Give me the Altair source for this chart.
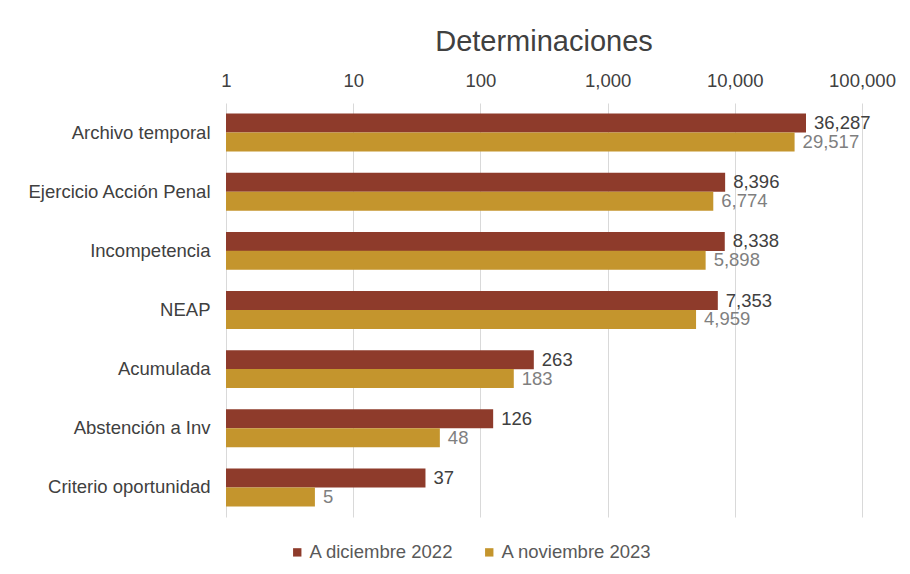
import altair as alt
import pandas as pd

categories = ["Archivo temporal", "Ejercicio Acción Penal", "Incompetencia", "NEAP",
              "Acumulada", "Abstención a Inv", "Criterio oportunidad"]
dic_2022 = [36287, 8396, 8338, 7353, 263, 126, 37]
nov_2023 = [29517, 6774, 5898, 4959, 183, 48, 5]
series = ["A diciembre 2022", "A noviembre 2023"]
colors = ["#8E3B2B", "#C4952D"]
label_colors = ["#404040", "#7F7F7F"]

rows = []
for i, c in enumerate(categories):
    rows.append({"cat": c, "serie": series[0], "val": dic_2022[i], "lc": label_colors[0]})
    rows.append({"cat": c, "serie": series[1], "val": nov_2023[i], "lc": label_colors[1]})
df = pd.DataFrame(rows)

FS = 18.5
FONT = "Liberation Sans"
xscale = alt.Scale(type="log", domain=[1, 100000])

y_enc = alt.Y("cat:N", sort=categories, title=None,
              scale=alt.Scale(paddingInner=0.36, paddingOuter=0.18),
              axis=alt.Axis(labelFontSize=FS, labelColor="#404040", labelFont=FONT,
                            ticks=False, domain=False, grid=False, labelPadding=16,
                            labelLimit=400))
x_enc = alt.X("val:Q", title=None, scale=xscale,
              axis=alt.Axis(orient="top", values=[1, 10, 100, 1000, 10000, 100000], format=",",
                            labelFontSize=FS, labelColor="#404040", labelFont=FONT,
                            ticks=False, domain=False, grid=True, gridColor="#D9D9D9",
                            labelPadding=13, labelFlush=False))

base = alt.Chart(df).encode(
    y=y_enc,
    yOffset=alt.YOffset("serie:N", sort=series),
)

bars = base.mark_bar(size=19).encode(
    x=x_enc,
    x2=alt.datum(1),
    color=alt.Color("serie:N", sort=series,
                    scale=alt.Scale(domain=series, range=colors),
                    legend=alt.Legend(orient="none", legendX=62, legendY=440,
                                      direction="horizontal", title=None,
                                      symbolType="square", symbolSize=70, labelFontSize=FS,
                                      labelColor="#595959", labelFont=FONT, labelOffset=3,
                                      columnPadding=26, symbolStrokeWidth=0)),
)

labels = base.mark_text(align="left", baseline="middle", dx=8, fontSize=FS,
                        font=FONT).encode(
    x=alt.X("val:Q", scale=xscale),
    text=alt.Text("val:Q", format=","),
    color=alt.Color("lc:N", scale=None),
)

chart = alt.layer(bars, labels).properties(
    width=636, height=414,
    view=alt.ViewBackground(stroke=None, strokeWidth=0),
    padding={"left": 18, "top": 20, "right": 5, "bottom": 5},
    title=alt.TitleParams("Determinaciones", fontSize=29, font=FONT,
                          fontWeight="normal", color="#404040", offset=14),
).configure_view(stroke=None, strokeWidth=0).configure_axis(domain=False).configure(background="white")

chart.save("out.html", embed_options={"renderer": "svg", "actions": False})
